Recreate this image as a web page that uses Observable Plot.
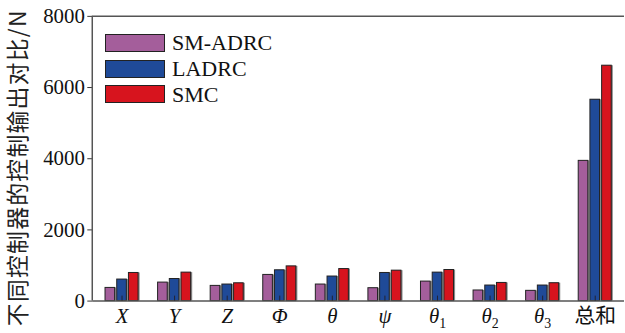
<!DOCTYPE html>
<html>
<head>
<meta charset="utf-8">
<script src="https://cdn.jsdelivr.net/npm/d3@7"></script>
<script src="https://cdn.jsdelivr.net/npm/@observablehq/plot@0.6"></script>
<style>
  html, body { margin: 0; padding: 0; background: #fff; overflow: hidden; }
  #wrap { position: relative; width: 625px; height: 333px; overflow: hidden; }
  #legend { position: absolute; left: 105px; top: 30px; font-family: "Liberation Serif", "Times New Roman", "DejaVu Serif", serif; font-size: 22px; color: #111; }
  .row { display: flex; align-items: center; height: 25.8px; }
  .sw { width: 58px; height: 16px; border: 1.5px solid #222; margin-right: 7px; }
</style>
</head>
<body>
<div id="wrap"></div>
<script>
const categories = ["X", "Y", "Z", "Φ", "θ", "ψ", "θ1", "θ2", "θ3", "总和"];
const seriesNames = ["SM-ADRC", "LADRC", "SMC"];
const smadrc = [370, 520, 427, 735, 465, 362, 548, 298, 288, 3940];
const ladrc  = [605, 620, 465, 865, 690, 790, 800, 437, 437, 5658];
const smc    = [790, 800, 500, 975, 900, 855, 873, 510, 502, 6614];
const colors = ["#A45E9B", "#1F4A98", "#D7141E"];
const yTicks = [0, 2000, 4000, 6000, 8000];
const yLabel = "不同控制器的控制输出对比/N";

const seriesValues = [smadrc, ladrc, smc];
const data = [];
seriesValues.forEach((vals, si) => vals.forEach((v, ci) => data.push({cat: categories[ci], series: seriesNames[si], si, value: v})));

const bw = 10.3, gap = 11.8, step = 53.6;
function insets(si) {
  const off = (si - 1) * gap;
  const base = step / 2 - bw / 2;
  return {insetLeft: base + off, insetRight: base - off};
}

const marks = [];
for (let si = 0; si < 3; si++) {
  marks.push(Plot.barY(data.filter(d => d.si === si), {x: "cat", y: "value", fill: "#8a8a8a", dx: 1.6, ...insets(si)}));
}
for (let si = 0; si < 3; si++) {
  marks.push(Plot.barY(data.filter(d => d.si === si), {x: "cat", y: "value", fill: colors[si], stroke: "#222", strokeWidth: 1, ...insets(si)}));
}

const serif = "'Liberation Serif', 'Times New Roman', 'DejaVu Serif', serif";
const chart = Plot.plot({
  width: 630,
  height: 333,
  marginLeft: 93,
  marginRight: 1,
  marginTop: 16,
  marginBottom: 30,
  style: {fontFamily: serif, fontSize: "21px", color: "#111", background: "#fff"},
  x: {domain: categories, padding: 0},
  y: {domain: [0, 8000]},
  marks: [
    ...marks,
    Plot.ruleY([0], {stroke: "#555", strokeWidth: 1.5}),
    Plot.ruleY([8000], {stroke: "#555", strokeWidth: 1.5}),
    Plot.axisY({ticks: yTicks, tickFormat: d3.format("d"), tickSize: 5, tickPadding: 3, fontSize: 21, fontFamily: serif, stroke: "#333", label: null}),
    Plot.axisX({tickSize: -5, tickFormat: () => "", stroke: "#223", label: null}),
    Plot.axisX({tickSize: 0, tickPadding: 7, fontSize: 21, fontFamily: serif, label: null}),
  ]
});

document.getElementById("wrap").appendChild(chart);

const svg = d3.select(chart);
svg.append("line").attr("x1", 93).attr("x2", 93).attr("y1", 16).attr("y2", 303).attr("stroke", "#555").attr("stroke-width", 1.5);

// y label
svg.append("text")
  .attr("transform", "translate(17,169) rotate(-90)")
  .attr("text-anchor", "middle")
  .attr("dominant-baseline", "central")
  .style("font-family", "'Noto Sans CJK SC', sans-serif")
  .style("font-size", "23px")
  .style("letter-spacing", "1.3px")
  .style("fill", "#222")
  .text(yLabel);

// x tick labels: italics and subscripts
svg.selectAll('g[aria-label="x-axis tick label"] text').each(function() {
  const t = this.textContent;
  const el = d3.select(this);
  if (/[\u4e00-\u9fff]/.test(t)) {
    el.style("font-family", "'Noto Sans CJK SC', sans-serif").style("font-size", "21px");
    return;
  }
  el.style("font-style", "italic");
  const m = t.match(/^(.+?)(\d)$/);
  if (m) {
    el.text(null);
    el.append("tspan").text(m[1]);
    el.append("tspan").text(m[2]).style("font-style", "normal").style("font-size", "14px").attr("dy", "0.35em");
  }
});

// legend
const legend = document.createElement("div");
legend.id = "legend";
seriesNames.forEach((n, i) => {
  const row = document.createElement("div");
  row.className = "row";
  const sw = document.createElement("div");
  sw.className = "sw";
  sw.style.background = colors[i];
  const lab = document.createElement("span");
  lab.textContent = n;
  row.appendChild(sw); row.appendChild(lab);
  legend.appendChild(row);
});
document.getElementById("wrap").appendChild(legend);
</script>
</body>
</html>
